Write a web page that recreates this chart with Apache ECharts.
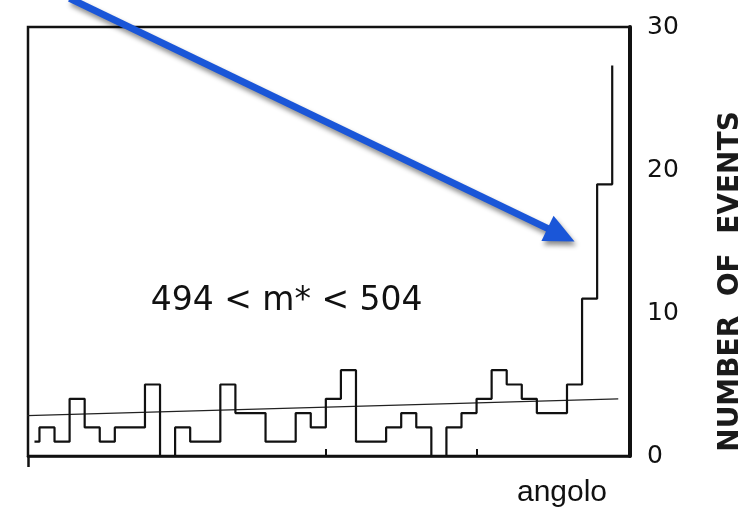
<!DOCTYPE html>
<html>
<head>
<meta charset="utf-8">
<script src="https://cdn.jsdelivr.net/npm/echarts@6/dist/echarts.min.js"></script>
<style>
  html, body { margin: 0; padding: 0; background: #ffffff; }
  #chart { width: 747px; height: 513px; }
</style>
</head>
<body>
<div id="chart"></div>
<script>
// ---- data (x in bin units, y = number of events) ----
const counts = [2, 1, 4, 2, 1, 2, 2, 5, 0, 2, 1, 1, 5, 3, 3, 1, 1, 3, 2, 4,
                6, 1, 1, 2, 3, 2, 0, 2, 3, 4, 6, 5, 4, 3, 3, 5, 11, 19];
const leadX = -0.33;      // partial first bin (left of bin 0)
const leadValue = 1;
const peakValue = 27.3;   // last bin, only its rising edge drawn
const fitX = [-1.43, 38.4];
const fitY = [2.8, 4.0];
const yTicks = [0, 10, 20, 30];
const xTicks = [9, 19, 29];
const rangeLabel = '494 < m* < 504';
const labelAt = [16.4, 10.8];
const arrowTail = [2.0, 32.0];
const arrowTip = [35.5, 15.0];

const xMin = -0.76, xMax = 39.18;

const histData = [[leadX, leadValue]];
counts.forEach((v, i) => histData.push([i, v]));
histData.push([counts.length, counts[counts.length - 1]]);
histData.push([counts.length, peakValue]);

const fitData = fitX.map((x, i) => [x, fitY[i]]);

const chart = echarts.init(document.getElementById('chart'));
chart.setOption({
  backgroundColor: '#ffffff',
  animation: false,
  grid: {
    left: 28, right: 117, top: 27, bottom: 57,
    outerBoundsMode: 'none', containLabel: false,
    show: true, borderColor: '#111', borderWidth: 2.5, backgroundColor: 'transparent'
  },
  xAxis: [{
    type: 'value', min: xMin, max: xMax,
    name: 'angolo', nameLocation: 'middle', nameGap: 22,
    nameTextStyle: { fontFamily: 'Liberation Sans', fontSize: 30, color: '#111', padding: [0, 0, 0, 466] },
    axisLine: { show: true, onZero: false, lineStyle: { color: '#111', width: 2.5 } },
    axisTick: { show: true, inside: true, length: 7, customValues: xTicks, lineStyle: { color: '#111', width: 2 } },
    axisLabel: { show: false },
    splitLine: { show: false }
  }, {
    type: 'value', min: xMin, max: xMax, position: 'bottom',
    axisLine: { show: false, onZero: false },
    axisTick: { show: true, inside: false, length: 11, customValues: [xMin], lineStyle: { color: '#111', width: 2.5 } },
    axisLabel: { show: false },
    splitLine: { show: false }
  }],
  yAxis: {
    type: 'value', position: 'right', min: 0, max: 30, interval: 10,
    name: 'NUMBER  OF  EVENTS', nameLocation: 'middle', nameRotate: 90, nameGap: 87,
    nameTextStyle: { fontFamily: 'DejaVu Sans', fontWeight: 'bold', fontSize: 28, color: '#1a1a1a', padding: [0, 80, 0, 0] },
    axisLine: { show: true, onZero: false, lineStyle: { color: '#111', width: 4 } },
    axisTick: { show: false },
    axisLabel: { show: true, margin: 17, fontFamily: 'DejaVu Sans', fontSize: 25, color: '#111',
      customValues: yTicks },
    splitLine: { show: false }
  },
  series: [{
    type: 'line', data: histData, step: 'end', symbol: 'none',
    lineStyle: { color: '#111', width: 2.2 }, z: 3
  }, {
    type: 'line', data: fitData, symbol: 'none', clip: false,
    lineStyle: { color: '#222', width: 1.2 }, z: 2
  }]
});

function px(p) { return chart.convertToPixel({ gridIndex: 0 }, p); }
const tail = px(arrowTail), tip = px(arrowTip), lab = px(labelAt);
const dx = tip[0] - tail[0], dy = tip[1] - tail[1];
const len = Math.sqrt(dx * dx + dy * dy);
const ux = dx / len, uy = dy / len;
const headLen = 30, headHalf = 14;
const base = [tip[0] - ux * headLen, tip[1] - uy * headLen];
const shadow = { shadowBlur: 5, shadowColor: 'rgba(0,0,0,0.45)', shadowOffsetX: 2, shadowOffsetY: 4 };
chart.setOption({
  graphic: [{
    type: 'text', x: lab[0], y: lab[1], z: 10,
    style: { text: rangeLabel, fontFamily: 'DejaVu Sans', fontSize: 33, fill: '#111',
      textAlign: 'center', textVerticalAlign: 'middle' }
  }, {
    type: 'line', z: 20,
    shape: { x1: tail[0], y1: tail[1], x2: base[0] + ux * 4, y2: base[1] + uy * 4 },
    style: Object.assign({ stroke: '#1a56d8', lineWidth: 7 }, shadow)
  }, {
    type: 'polygon', z: 21,
    shape: { points: [tip,
      [base[0] - uy * headHalf, base[1] + ux * headHalf],
      [base[0] + uy * headHalf, base[1] - ux * headHalf]] },
    style: Object.assign({ fill: '#1a56d8' }, shadow)
  }]
});
</script>
</body>
</html>
